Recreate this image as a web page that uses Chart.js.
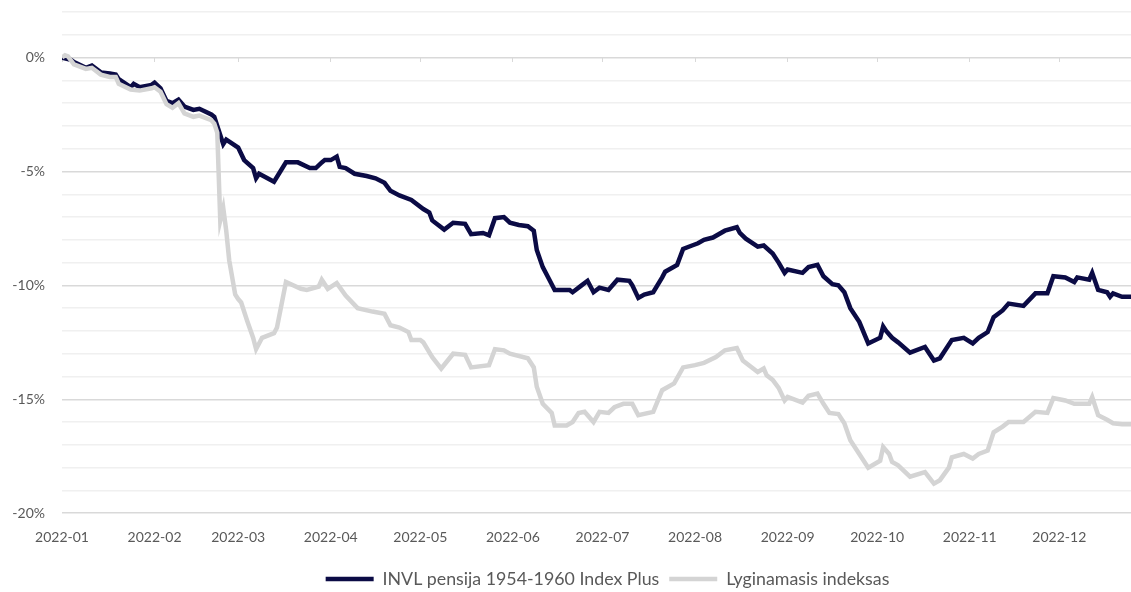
<!DOCTYPE html>
<html>
<head>
<meta charset="utf-8">
<script src="https://cdn.jsdelivr.net/npm/chart.js@4"></script>
<style>
  html, body { margin: 0; padding: 0; background: #fff; }
</style>
</head>
<body>
<canvas id="myChart" width="1131" height="592"></canvas>
<script>
// month ticks (days since 2022-01-01)
const monthStarts = [0, 31, 59, 90, 120, 151, 181, 212, 243, 273, 304, 334];
const monthLabels = ["2022-01", "2022-02", "2022-03", "2022-04", "2022-05", "2022-06",
  "2022-07", "2022-08", "2022-09", "2022-10", "2022-11", "2022-12"];

// INVL pensija 1954-1960 Index Plus, % since start of year
const fundDays = [0, 3, 4, 8, 10, 13, 16, 18, 19, 23, 24, 26,
  30, 31, 33, 35, 37, 39, 41, 44, 46, 50, 51, 52,
  54, 55, 59, 61, 64, 65, 66, 71, 75, 79, 83, 85,
  87, 88, 90, 92, 93, 95, 98, 102, 105, 108, 110, 113,
  117, 121, 123, 124, 128, 131, 135, 137, 141, 143, 145, 148,
  150, 153, 156, 158, 159, 161, 163, 165, 170, 171, 174, 176,
  178, 180, 183, 186, 190, 191, 193, 195, 198, 201, 202, 206,
  208, 211, 213, 215, 218, 222, 226, 227, 229, 233, 235, 238,
  240, 242, 243, 248, 250, 253, 255, 258, 260, 262, 264, 267,
  270, 274, 275, 276, 278, 280, 284, 289, 292, 294, 298, 302,
  305, 307, 310, 312, 315, 317, 322, 326, 330, 332, 336, 339,
  340, 344, 345, 347, 350, 351, 352, 355, 358];
const fundValues = [0, -0.1, -0.2, -0.45, -0.35, -0.65, -0.7, -0.75, -0.95, -1.3, -1.15, -1.3,
  -1.2, -1.1, -1.35, -1.9, -2.0, -1.85, -2.15, -2.3, -2.25, -2.5, -2.6, -3.0,
  -3.8, -3.6, -3.95, -4.5, -4.85, -5.3, -5.1, -5.45, -4.6, -4.6, -4.85, -4.85,
  -4.6, -4.5, -4.5, -4.35, -4.8, -4.85, -5.1, -5.2, -5.3, -5.5, -5.85, -6.05,
  -6.25, -6.65, -6.8, -7.15, -7.55, -7.25, -7.3, -7.75, -7.7, -7.8, -7.05, -7.0,
  -7.25, -7.35, -7.4, -7.6, -8.45, -9.2, -9.7, -10.2, -10.2, -10.3, -10.0, -9.8,
  -10.3, -10.1, -10.2, -9.75, -9.8, -10.0, -10.55, -10.4, -10.3, -9.65, -9.4, -9.1,
  -8.4, -8.25, -8.15, -8.0, -7.9, -7.6, -7.45, -7.7, -7.95, -8.3, -8.25, -8.6,
  -9.0, -9.45, -9.3, -9.45, -9.2, -9.1, -9.6, -9.95, -10.0, -10.3, -11.0, -11.6,
  -12.55, -12.3, -11.8, -12.0, -12.3, -12.5, -12.95, -12.7, -13.3, -13.2, -12.4, -12.3,
  -12.55, -12.3, -12.05, -11.4, -11.1, -10.8, -10.9, -10.35, -10.35, -9.6, -9.65, -9.85,
  -9.65, -9.75, -9.45, -10.2, -10.3, -10.5, -10.35, -10.5, -10.5];

// Lyginamasis indeksas (benchmark)
const indexDays = [0, 1, 2, 4, 8, 10, 13, 16, 18, 19, 23, 26,
  30, 31, 33, 35, 37, 39, 41, 44, 46, 50, 51, 52,
  53, 54, 55, 56, 58, 59, 60, 62, 64, 65, 67, 71,
  72, 75, 80, 82, 86, 87, 89, 92, 95, 99, 104, 108,
  110, 113, 116, 117, 120, 121, 124, 127, 131, 135, 137, 143,
  145, 148, 150, 156, 158, 159, 161, 164, 165, 169, 171, 173,
  175, 178, 180, 183, 185, 188, 191, 193, 198, 201, 205, 208,
  212, 215, 219, 222, 226, 228, 233, 235, 236, 238, 240, 242,
  243, 248, 250, 253, 255, 257, 260, 262, 264, 267, 270, 274,
  275, 277, 278, 280, 284, 289, 292, 294, 297, 298, 302, 305,
  307, 310, 312, 315, 317, 322, 326, 330, 332, 336, 339, 344,
  345, 347, 350, 352, 355, 358];
const indexValues = [0, 0.1, 0.05, -0.3, -0.5, -0.45, -0.75, -0.85, -0.85, -1.15, -1.4, -1.45,
  -1.35, -1.3, -1.5, -2.05, -2.2, -2.0, -2.45, -2.6, -2.55, -2.75, -2.9, -3.3,
  -7.15, -6.6, -7.6, -8.9, -10.4, -10.6, -10.75, -11.55, -12.3, -12.8, -12.3, -12.1,
  -11.85, -9.85, -10.15, -10.2, -10.05, -9.75, -10.15, -9.9, -10.45, -11.0, -11.15, -11.25,
  -11.75, -11.85, -12.05, -12.4, -12.4, -12.5, -13.15, -13.65, -13.0, -13.05, -13.6, -13.5,
  -12.8, -12.85, -13.0, -13.2, -13.6, -14.45, -15.2, -15.6, -16.15, -16.15, -16.0, -15.6,
  -15.55, -16.0, -15.55, -15.6, -15.35, -15.2, -15.2, -15.7, -15.55, -14.6, -14.3, -13.6,
  -13.5, -13.4, -13.15, -12.85, -12.75, -13.3, -13.8, -13.65, -13.95, -14.15, -14.5, -15.05,
  -14.9, -15.15, -14.85, -14.75, -15.2, -15.6, -15.65, -16.05, -16.8, -17.4, -18.0, -17.7,
  -17.1, -17.4, -17.75, -17.9, -18.4, -18.2, -18.7, -18.55, -18.0, -17.55, -17.4, -17.6,
  -17.4, -17.25, -16.45, -16.2, -16.0, -16.0, -15.55, -15.6, -14.95, -15.05, -15.2, -15.2,
  -14.9, -15.7, -15.9, -16.05, -16.1, -16.1];

const lastDay = 358;

function toPoints(days, values) {
  return days.map((d, i) => ({ x: d, y: values[i] }));
}

function setMonthTicks(scale) {
  scale.ticks = monthStarts.map((v) => ({ value: v }));
}

const fontFamily = "Lato, 'Liberation Sans', sans-serif";
const textColor = "#595959";

// the legend in the original sits a little right of centre
const legendShift = {
  id: "legendShift",
  afterLayout(chart) {
    chart.legend.left += 42;
    chart.legend.right += 42;
  },
};

const contexto = document.getElementById("myChart").getContext("2d");

const myChart = new Chart(contexto, {
  type: "line",
  data: {
    datasets: [
      {
        label: "INVL pensija 1954-1960 Index Plus",
        data: toPoints(fundDays, fundValues),
        borderColor: "#0b0b45",
        backgroundColor: "#0b0b45",
        borderWidth: 4.5,
        pointRadius: 0,
        tension: 0,
        order: 1,
      },
      {
        label: "Lyginamasis indeksas",
        data: toPoints(indexDays, indexValues),
        borderColor: "#d4d4d4",
        backgroundColor: "#d4d4d4",
        borderWidth: 4.5,
        pointRadius: 0,
        tension: 0,
        order: 0,
      },
    ],
  },
  plugins: [legendShift],
  options: {
    responsive: false,
    animation: false,
    layout: { padding: { top: 12, right: 0, bottom: -6, left: 0 } },
    plugins: {
      tooltip: { enabled: false },
      legend: {
        position: "bottom",
        labels: {
          usePointStyle: true,
          pointStyle: "line",
          pointStyleWidth: 48,
          padding: 10,
          color: textColor,
          font: { family: fontFamily, size: 17.8 },
          sort: (a, b) => a.datasetIndex - b.datasetIndex,
        },
      },
    },
    scales: {
      x: {
        type: "linear",
        min: 0,
        max: lastDay,
        afterBuildTicks: setMonthTicks,
        afterFit: (scale) => { scale.height = 47; },
        grid: { display: false },
        border: { display: false },
        ticks: {
          padding: 8,
          color: textColor,
          font: { family: fontFamily, size: 14 },
          maxRotation: 0,
          autoSkip: false,
          callback: (v) => monthLabels[monthStarts.indexOf(v)],
        },
      },
      x2: {
        type: "linear",
        axis: "x",
        position: { y: 0 },
        min: 0,
        max: lastDay,
        afterBuildTicks: setMonthTicks,
        afterFit: (scale) => { scale.height = 0; },
        grid: { drawOnChartArea: false, drawTicks: true, tickLength: 4, color: "#d9d9d9" },
        border: { display: true, color: "#d9d9d9", width: 1 },
        ticks: { display: false },
      },
      y: {
        min: -20,
        max: 2,
        afterFit: (scale) => {
          scale.width = 62;
          scale.paddingTop = 0;
          scale.paddingBottom = 0;
        },
        border: { display: false },
        grid: {
          drawTicks: false,
          color: (ctx) => (ctx.tick.value % 5 === 0 ? "#d9d9d9" : "#f0f0f0"),
          lineWidth: 1.5,
        },
        ticks: {
          stepSize: 1,
          padding: 17,
          color: textColor,
          font: { family: fontFamily, size: 14 },
          callback: (v) => (v % 5 === 0 ? v + "%" : ""),
        },
      },
    },
  },
});
</script>
</body>
</html>
